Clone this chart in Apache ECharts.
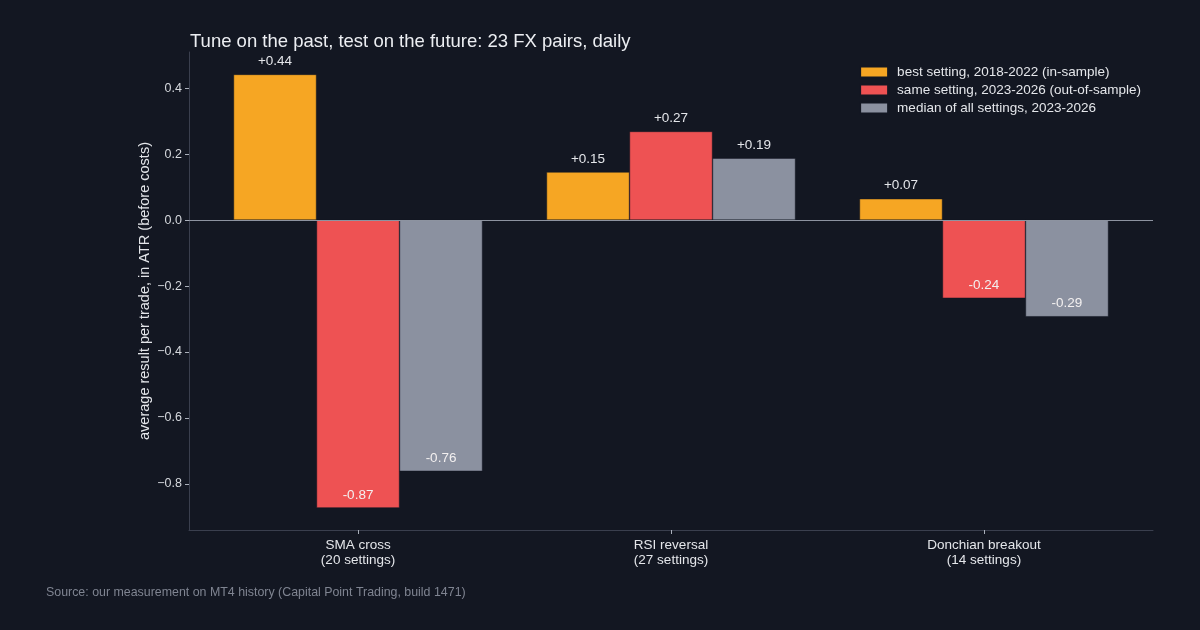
<!DOCTYPE html>
<html>
<head>
<meta charset="utf-8">
<script src="https://cdn.jsdelivr.net/npm/echarts@6/dist/echarts.min.js"></script>
<style>
  html, body { margin: 0; padding: 0; background: #131722; }
  #chart { width: 1200px; height: 630px; }
</style>
</head>
<body>
<div id="chart"></div>
<script>
// 数据
var categories = ['SMA cross\n(20 settings)', 'RSI reversal\n(27 settings)', 'Donchian breakout\n(14 settings)'];
var seriesNames = ['best setting, 2018-2022 (in-sample)', 'same setting, 2023-2026 (out-of-sample)', 'median of all settings, 2023-2026'];
var inSample = [0.442, 0.146, 0.065];
var outSample = [-0.873, 0.269, -0.237];
var medianAll = [-0.762, 0.188, -0.293];
var yTicks = [-0.8, -0.6, -0.4, -0.2, 0.0, 0.2, 0.4];
var colors = ['#F6A623', '#EE5253', '#8B91A0'];

var bg = '#131722';
var spine = '#3a3f4e';

function fmt(v) {
    return (v > 0 ? '+' : '') + v.toFixed(2);
}

function makeSeries(name, values, color, withZero) {
    var s = {
        name: name,
        type: 'bar',
        barWidth: 83,
        barGap: '0%',
        itemStyle: { color: color, borderColor: bg, borderWidth: 0.5 },
        data: values.map(function (v, i) {
            return {
                value: [i, v],
                label: {
                    show: true,
                    position: v >= 0 ? 'top' : 'insideBottom',
                    distance: 6,
                    color: v >= 0 ? '#e4e6ea' : '#f3f0f0',
                    fontSize: 13.5,
                    formatter: fmt(v)
                }
            };
        })
    };
    if (withZero) {
        s.markLine = {
            silent: true,
            symbol: 'none',
            label: { show: false },
            lineStyle: { color: '#8d93a0', width: 1, type: 'solid' },
            data: [{ yAxis: 0 }]
        };
    }
    return s;
}

var myChart = echarts.init(document.getElementById('chart'));
var option = {
    backgroundColor: bg,
    animation: false,
    textStyle: { fontFamily: 'Liberation Sans, Arial, sans-serif' },
    title: {
        text: 'Tune on the past, test on the future: 23 FX pairs, daily',
        left: 185,
        top: 27,
        textStyle: { color: '#eceef2', fontSize: 18.5, fontWeight: 'normal' }
    },
    legend: {
        orient: 'vertical',
        right: 54,
        top: 60,
        itemWidth: 28,
        itemHeight: 11,
        itemGap: 4,
        icon: 'rect',
        textStyle: { color: '#e4e6ea', fontSize: 13.5, padding: [0, 0, 0, 4] },
        data: seriesNames
    },
    graphic: [{
        type: 'text',
        left: 46,
        top: 587,
        style: {
            text: 'Source: our measurement on MT4 history (Capital Point Trading, build 1471)',
            fill: '#7f8491',
            fontSize: 12.4,
            fontFamily: 'Liberation Sans, Arial, sans-serif'
        }
    }],
    grid: { left: 189, right: 47, top: 52, bottom: 100 },
    xAxis: {
        type: 'value',
        min: -0.54,
        max: 2.54,
        splitLine: { show: false },
        axisLine: { show: true, onZero: false, lineStyle: { color: spine } },
        axisTick: { show: true, length: 4, lineStyle: { color: '#aab0bb' }, customValues: [0, 1, 2] },
        axisLabel: {
            color: '#e4e6ea',
            fontSize: 13.5,
            lineHeight: 15,
            margin: 8,
            customValues: [0, 1, 2],
            formatter: function (v) { return categories[Math.round(v)]; }
        }
    },
    yAxis: {
        type: 'value',
        min: -0.94,
        max: 0.51,
        name: 'average result per trade, in ATR (before costs)',
        nameLocation: 'middle',
        nameGap: 37,
        nameMoveOverlap: false,
        nameTextStyle: { color: '#e4e6ea', fontSize: 14.5 },
        splitLine: { show: false },
        axisLine: { show: true, onZero: false, lineStyle: { color: spine } },
        axisTick: { show: true, length: 4, lineStyle: { color: '#aab0bb' }, customValues: yTicks },
        axisLabel: {
            color: '#d6d9de',
            fontSize: 12.5,
            margin: 7,
            customValues: yTicks,
            formatter: function (v) { return (v < 0 ? '\u22120.' : '0.') + Math.round(Math.abs(v) * 10); }
        }
    },
    series: [
        makeSeries(seriesNames[0], inSample, colors[0], true),
        makeSeries(seriesNames[1], outSample, colors[1], false),
        makeSeries(seriesNames[2], medianAll, colors[2], false)
    ]
};
myChart.setOption(option);
</script>
</body>
</html>
